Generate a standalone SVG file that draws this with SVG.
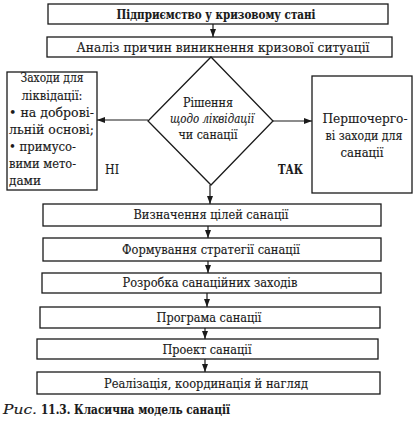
<svg xmlns="http://www.w3.org/2000/svg" width="419" height="425" viewBox="0 0 419 425">
<style>
.b{fill:#fff;stroke:#1a1a1a;stroke-width:1.3}
.t{font-family:"DejaVu Serif","Liberation Serif",serif;font-size:13px;fill:#1a1a1a;stroke:#1a1a1a;stroke-width:0.15}
.c{text-anchor:middle}
.bd{font-weight:bold}
.e{stroke:#1a1a1a;stroke-width:1.2;fill:none;marker-end:url(#ah)}
</style>
<defs>
<marker id="ah" viewBox="0 0 8 6" refX="8" refY="3" markerWidth="8" markerHeight="6" markerUnits="userSpaceOnUse" orient="auto">
<path d="M0,0 L8,3 L0,6 Z" fill="#1a1a1a"/>
</marker>
</defs>
<rect width="419" height="425" fill="#fff"/>
<g id="connectors">
<line class="e" x1="213" y1="24" x2="213" y2="37"/>
<line class="e" x1="148" y1="120" x2="97" y2="120"/>
<line class="e" x1="273" y1="121" x2="312" y2="121"/>
<line class="e" x1="210" y1="185" x2="210" y2="204"/>
<line class="e" x1="208" y1="226" x2="208" y2="238"/>
<line class="e" x1="208" y1="261" x2="208" y2="273"/>
<line class="e" x1="207" y1="293" x2="207" y2="307"/>
<line class="e" x1="205" y1="328" x2="205" y2="339"/>
<line class="e" x1="205" y1="359" x2="205" y2="372"/>
</g>
<g id="n1"><rect class="b" x="48" y="4" width="340" height="20"/><text class="t c bd" x="216" y="19" textLength="199" lengthAdjust="spacingAndGlyphs">Підприємство у кризовому стані</text></g>
<g id="n2"><rect class="b" x="47" y="37" width="345" height="20"/><text class="t c" x="223" y="52" textLength="293" lengthAdjust="spacingAndGlyphs">Аналіз причин виникнення кризової ситуації</text></g>
<g id="n3"><polygon class="b" points="211,57 273,121 211,185 148,121"/>
<text class="t c" x="208" y="107" textLength="50" lengthAdjust="spacingAndGlyphs">Рішення</text>
<text class="t c" x="212" y="123" textLength="84" lengthAdjust="spacingAndGlyphs" font-style="italic">щодо ліквідації</text>
<text class="t c" x="208" y="139" textLength="59" lengthAdjust="spacingAndGlyphs">чи санації</text></g>
<g id="n4"><rect class="b" x="7" y="72" width="90" height="118"/>
<text class="t c" x="52" y="82" textLength="63" lengthAdjust="spacingAndGlyphs">Заходи для</text>
<text class="t c" x="52" y="100" textLength="61" lengthAdjust="spacingAndGlyphs">ліквідації:</text>
<text class="t" x="9" y="117" textLength="85" lengthAdjust="spacingAndGlyphs">• на  доброві-</text>
<text class="t" x="9" y="134" textLength="85" lengthAdjust="spacingAndGlyphs">льній основі;</text>
<text class="t" x="9" y="151" textLength="67" lengthAdjust="spacingAndGlyphs">• примусо-</text>
<text class="t" x="9" y="168" textLength="67" lengthAdjust="spacingAndGlyphs">вими мето-</text>
<text class="t" x="9" y="185" textLength="32" lengthAdjust="spacingAndGlyphs">дами</text></g>
<g id="n5"><rect class="b" x="312" y="76" width="100" height="117"/>
<text class="t c" x="365" y="123" textLength="85" lengthAdjust="spacingAndGlyphs">Першочерго-</text>
<text class="t c" x="364" y="140" textLength="77" lengthAdjust="spacingAndGlyphs">ві заходи для</text>
<text class="t c" x="362" y="157" textLength="43" lengthAdjust="spacingAndGlyphs">санації</text></g>
<text class="t" x="105" y="174" textLength="14" lengthAdjust="spacingAndGlyphs">НІ</text>
<text class="t bd" x="278" y="174" textLength="25" lengthAdjust="spacingAndGlyphs">ТАК</text>
<g id="n6"><rect class="b" x="43" y="204" width="338" height="22"/><text class="t c" x="211" y="219" textLength="155" lengthAdjust="spacingAndGlyphs">Визначення цілей санації</text></g>
<g id="n7"><rect class="b" x="43" y="238" width="338" height="23"/><text class="t c" x="211" y="254" textLength="178" lengthAdjust="spacingAndGlyphs">Формування стратегії санації</text></g>
<g id="n8"><rect class="b" x="42" y="273" width="339" height="20"/><text class="t c" x="210" y="287" textLength="175" lengthAdjust="spacingAndGlyphs">Розробка санаційних заходів</text></g>
<g id="n9"><rect class="b" x="40" y="307" width="340" height="21"/><text class="t c" x="209" y="322" textLength="105" lengthAdjust="spacingAndGlyphs">Програма санації</text></g>
<g id="n10"><rect class="b" x="37" y="339" width="341" height="20"/><text class="t c" x="207" y="354" textLength="89" lengthAdjust="spacingAndGlyphs">Проект санації</text></g>
<g id="n11"><rect class="b" x="37" y="372" width="343" height="22"/><text class="t c" x="206" y="388" textLength="204" lengthAdjust="spacingAndGlyphs">Реалізація, координація й нагляд</text></g>
<text class="t" x="3" y="414"><tspan font-style="italic" textLength="34" lengthAdjust="spacingAndGlyphs">Рис.</tspan><tspan font-weight="bold" x="41" textLength="189" lengthAdjust="spacingAndGlyphs">11.3. Класична модель санації</tspan></text>
</svg>
